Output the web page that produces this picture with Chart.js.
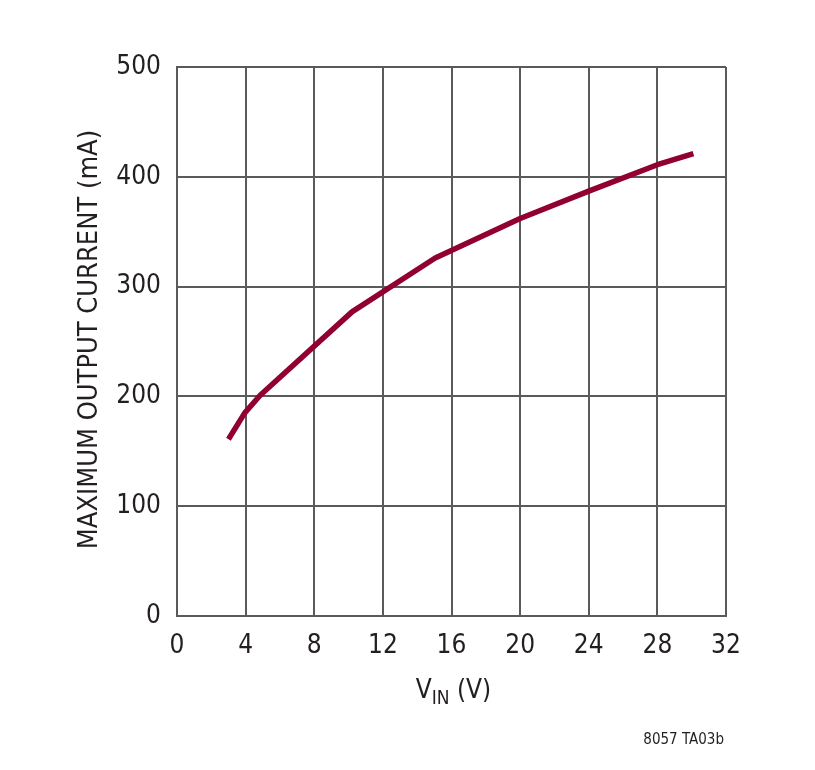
<!DOCTYPE html>
<html>
<head>
<meta charset="utf-8">
<script src="https://cdn.jsdelivr.net/npm/chart.js@4"></script>
<style>
  html, body { margin: 0; padding: 0; background: #fff; }
  #wrap { width: 815px; height: 770px; }
</style>
</head>
<body>
<div id="wrap"><canvas id="c" width="815" height="770"></canvas></div>
<script>
const vin = [3.0, 3.95, 4.85, 10.2, 15.05, 20, 24, 28, 30.1];
const current = [161, 185, 201, 277, 326, 362, 387, 411, 421];
const xTicks = [0, 4, 8, 12, 16, 20, 24, 28, 32];
const yTicks = [0, 100, 200, 300, 400, 500];

const FONT = '"Liberation Sans Narrow", "DejaVu Sans Condensed", "Liberation Sans", sans-serif';
const TEXT = '#231f20';
const GRID = '#5a5a5a';

// titles and the figure note, drawn by hand so the subscript can be kept
const labels = {
  id: 'labels',
  afterDraw(chart) {
    const ctx = chart.ctx;
    const area = chart.chartArea;
    ctx.save();
    ctx.fillStyle = TEXT;
    ctx.textBaseline = 'alphabetic';

    // y title
    ctx.save();
    ctx.translate(97, (area.top + area.bottom) / 2 - 2);
    ctx.rotate(-Math.PI / 2);
    ctx.font = '27px ' + FONT;
    ctx.textAlign = 'center';
    ctx.fillText('MAXIMUM OUTPUT CURRENT (mA)', 0, 0);
    ctx.restore();

    // x title: V with IN subscript
    ctx.font = '26px ' + FONT;
    const v = 'V', sub = 'IN', rest = ' (V)';
    ctx.textAlign = 'left';
    const w1 = ctx.measureText(v).width;
    ctx.font = '19px ' + FONT;
    const w2 = ctx.measureText(sub).width;
    ctx.font = '26px ' + FONT;
    const w3 = ctx.measureText(rest).width;
    let x = (area.left + area.right) / 2 - (w1 + w2 + w3) / 2 + 2;
    const base = 698;
    ctx.fillText(v, x, base);
    x += w1;
    ctx.font = '19px ' + FONT;
    ctx.fillText(sub, x, base + 6);
    x += w2;
    ctx.font = '26px ' + FONT;
    ctx.fillText(rest, x, base);

    // note
    ctx.font = '15px ' + FONT;
    ctx.textAlign = 'right';
    ctx.fillText('8057 TA03b', 724, 744);
    ctx.restore();
  }
};

new Chart(document.getElementById('c'), {
  type: 'line',
  data: {
    datasets: [{
      data: vin.map((v, i) => ({ x: v, y: current[i] })),
      borderColor: '#920030',
      borderWidth: 5.5,
      pointRadius: 0,
      tension: 0,
      borderCapStyle: 'butt',
      borderJoinStyle: 'round'
    }]
  },
  options: {
    responsive: false,
    animation: false,
    devicePixelRatio: 1,
    layout: { padding: { left: 0, top: 67, right: 89, bottom: 0 } },
    plugins: { legend: { display: false }, tooltip: { enabled: false } },
    scales: {
      x: {
        type: 'linear',
        min: 0, max: 32,
        afterBuildTicks(s) { s.ticks = xTicks.map(v => ({ value: v })); },
        afterFit(s) { s.height = 154; },
        grid: { color: GRID, lineWidth: 2, drawTicks: false },
        border: { color: GRID, width: 2 },
        ticks: { color: TEXT, padding: 15, maxRotation: 0, font: { family: FONT, size: 26 } }
      },
      y: {
        min: 0, max: 500,
        afterBuildTicks(s) { s.ticks = yTicks.map(v => ({ value: v })); },
        afterFit(s) { s.width = 177; },
        grid: { color: GRID, lineWidth: 2, drawTicks: false },
        border: { color: GRID, width: 2 },
        ticks: { color: TEXT, padding: 16, font: { family: FONT, size: 26 } }
      }
    }
  },
  plugins: [labels]
});
</script>
</body>
</html>
